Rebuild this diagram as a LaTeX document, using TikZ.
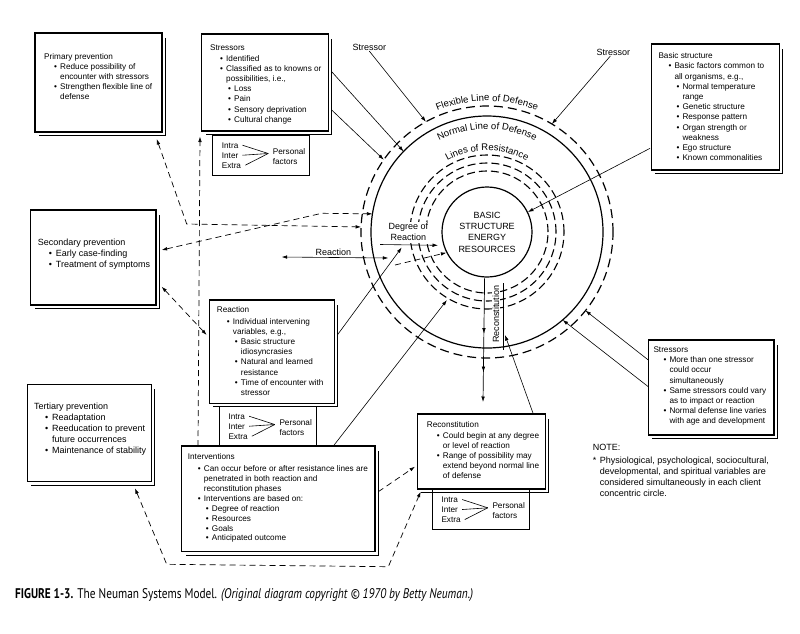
\documentclass[tikz,border=0pt]{standalone}
\usepackage{fontspec}
\setmainfont{Liberation Sans}
\newfontfamily\capfont{PT Sans}
\usetikzlibrary{arrows.meta,decorations.text,decorations.markings,calc}
\newcommand\BulA{\hspace*{10pt}\makebox[6pt][l]{\textbullet}}
\newcommand\ConA{\hspace*{16pt}}
\newcommand\BulB{\hspace*{18pt}\makebox[6pt][l]{\textbullet}}
\newcommand\ConB{\hspace*{24pt}}
\newcommand\BulW{\hspace*{11pt}\makebox[7pt][l]{\textbullet}}
\newcommand\ConW{\hspace*{18pt}}
\newcommand\ShadowOf[1]{\draw[shadowline] ([shift={(3.2pt,-5pt)}]#1.north east) |- ([shift={(4pt,-3.4pt)}]#1.south west);}
\tikzset{
  box/.style={draw, line width=1.1pt, fill=white, inner sep=0pt, outer sep=0pt},
  shadowline/.style={line width=1.1pt},
  pfbox/.style={draw, line width=0.9pt, fill=white, inner sep=0pt, outer sep=0pt, minimum width=97pt, minimum height=40pt, anchor=south west},
  txt/.style={anchor=north west, align=left, inner sep=0pt, font=\fontsize{8.2}{10.2}\selectfont},
  txtw/.style={anchor=north west, align=left, inner sep=0pt, font=\fontsize{9}{11}\selectfont},
  lbl/.style={inner sep=0pt, font=\fontsize{9}{11}\selectfont},
  pft/.style={inner sep=0pt, anchor=base west, font=\fontsize{8.2}{10}\selectfont},
  conn/.style={line width=0.6pt, -{Latex[length=5.5pt,width=3.6pt]}},
  dconn/.style={line width=0.7pt, dash pattern=on 6pt off 4pt, -{Latex[length=5.5pt,width=3.6pt]}},
  ddconn/.style={line width=0.7pt, dash pattern=on 6pt off 4pt, {Latex[length=5.5pt,width=3.6pt]}-{Latex[length=5.5pt,width=3.6pt]}},
  flex/.style={line width=1.2pt, dash pattern=on 9pt off 5pt},
  normalline/.style={line width=1.2pt},
  resist/.style={line width=1.1pt, dash pattern=on 8pt off 4pt},
  arctext/.style={decorate, decoration={text along path, text align=center, text={|\fontsize{9.5}{10}\selectfont|#1}}},
  pf/.pic={
    \node[pfbox] (-box) at (0,0) {};
    \node[pft] (-intra) at (9,27) {Intra};
    \node[pft] (-inter) at (9,17) {Inter};
    \node[pft] (-extra) at (9,7) {Extra};
    \coordinate (-join) at (55.5,21.5);
    \node[pft] (-pers) at (60,21) {Personal};
    \node[pft] (-fact) at (60,11) {factors};
    \draw[line width=0.6pt] ([xshift=4pt]-intra.east) -- (-join);
    \draw[line width=0.6pt] ([xshift=4pt]-inter.east) -- (-join);
    \draw[line width=0.6pt] ([xshift=4pt]-extra.east) -- (-join);
  }
}
\begin{document}
\begin{tikzpicture}[x=1pt,y=1pt]
\fill[white] (0,0) rectangle (800,-633);
\useasboundingbox (0,0) rectangle (800,-633);

% personal factor boxes
\pic (pfa) at (212.7,-175) {pf};
\pic (pfb) at (219.3,-446) {pf};
\pic (pfc) at (432.3,-529.3) {pf};

% main boxes
\node[box, minimum width=127pt, minimum height=99pt] (pp) at (98.5,-82.5) {};
\node[box, minimum width=126.6pt, minimum height=97pt] (st1) at (265,-82.5) {};
\node[box, minimum width=128.3pt, minimum height=126pt] (bs) at (715.2,-107) {};
\node[box, minimum width=125.3pt, minimum height=95pt] (sp) at (93.35,-257.5) {};
\node[box, minimum width=125pt, minimum height=103.3pt] (re) at (271.8,-351.65) {};
\node[box, minimum width=124.4pt, minimum height=97.4pt] (tp) at (89.5,-433) {};
\node[box, minimum width=193.3pt, minimum height=105.7pt] (iv) at (278.35,-498.85) {};
\node[box, minimum width=128.4pt, minimum height=75pt] (rc) at (481.5,-451.5) {};
\node[box, minimum width=125.7pt, minimum height=95pt] (st2) at (711.15,-387.5) {};
\ShadowOf{pp}\ShadowOf{st1}\ShadowOf{bs}\ShadowOf{sp}\ShadowOf{re}
\ShadowOf{tp}\ShadowOf{iv}\ShadowOf{rc}\ShadowOf{st2}

% box texts
\node[txt] (ppt) at (44,-53) {Primary prevention\\
\BulA Reduce possibility of\\
\ConA encounter with stressors\\
\BulA Strengthen flexible line of\\
\ConA defense};
\node[txt] (st1t) at (210,-45) {Stressors\\
\BulA Identified\\
\BulA Classified as to knowns or\\
\ConA possibilities, i.e.,\\
\BulB Loss\\
\BulB Pain\\
\BulB Sensory deprivation\\
\BulB Cultural change};
\node[txt] (bst) at (658.3,-52.5) {Basic structure\\
\BulA Basic factors common to\\
\ConA all organisms, e.g.,\\
\BulB Normal temperature\\
\ConB range\\
\BulB Genetic structure\\
\BulB Response pattern\\
\BulB Organ strength or\\
\ConB weakness\\
\BulB Ego structure\\
\BulB Known commonalities};
\node[txtw] (spt) at (37.7,-239) {Secondary prevention\\
\BulW Early case-finding\\
\BulW Treatment of symptoms};
\node[txt] (ret) at (216.7,-306.8) {Reaction\\[1pt]
\BulA Individual intervening\\
\ConA variables, e.g.,\\
\BulB Basic structure\\
\ConB idiosyncrasies\\
\BulB Natural and learned\\
\ConB resistance\\
\BulB Time of encounter with\\
\ConB stressor};
\node[txtw] (tpt) at (34,-402.6) {Tertiary prevention\\
\BulW Readaptation\\
\BulW Reeducation to prevent\\
\ConW future occurrences\\
\BulW Maintenance of stability};
\node[txt, font=\fontsize{8.2}{9.95}\selectfont] (ivt) at (187.7,-453.2) {Interventions\\[2pt]
\BulA Can occur before or after resistance lines are\\
\ConA penetrated in both reaction and\\
\ConA reconstitution phases\\
\BulA Interventions are based on:\\
\BulB Degree of reaction\\
\BulB Resources\\
\BulB Goals\\
\BulB Anticipated outcome};
\node[txt] (rct) at (426.7,-421.8) {Reconstitution\\
\BulA Could begin at any degree\\
\ConA or level of reaction\\
\BulA Range of possibility may\\
\ConA extend beyond normal line\\
\ConA of defense};
\node[txt, font=\fontsize{8.2}{10.1}\selectfont] (st2t) at (653.3,-346.8) {Stressors\\
\BulA More than one stressor\\
\ConA could occur\\
\ConA simultaneously\\
\BulA Same stressors could vary\\
\ConA as to impact or reaction\\
\BulA Normal defense line varies\\
\ConA with age and development};
\node[txtw] (note) at (592.7,-443.8) {NOTE:\\[2.4pt]
\makebox[7pt][l]{*}Physiological, psychological, sociocultural,\\
\hspace*{7pt}developmental, and spiritual variables are\\
\hspace*{7pt}considered simultaneously in each client\\
\hspace*{7pt}concentric circle.};

% circles
\coordinate (C) at (487,-232);
\draw[flex] (C) circle[radius=126];
\draw[normalline] (C) circle[radius=116];
\draw[resist] (C) circle[radius=77];
\draw[resist] (C) circle[radius=69];
\draw[resist] (C) circle[radius=61];
\node[draw, circle, fill=white, line width=1.2pt, minimum size=90pt, inner sep=0pt, align=center, font=\fontsize{9}{11.3}\selectfont] (core) at (C) {BASIC\\STRUCTURE\\ENERGY\\RESOURCES};
\path[arctext={Flexible Line of Defense}] ($(C)+(150:131)$) arc[start angle=150, end angle=30, radius=131];
\path[arctext={Normal Line of Defense}] ($(C)+(150:103)$) arc[start angle=150, end angle=30, radius=103];
\path[arctext={Lines of Resistance}] ($(C)+(150:81.5)$) arc[start angle=150, end angle=30, radius=81.5];

% labels inside circle
\node[lbl, align=center, fill=white, inner sep=1.5pt] (dor) at (408.3,-232.2) {Degree of\\Reaction};
\node[lbl, rotate=90, fill=white, inner sep=1pt] (recl) at (496,-314) {Reconstitution};
\draw[line width=0.7pt] ($(recl.center)+(7.3,31)$) -- ($(recl.center)+(7.3,-36)$);

% circle points
\coordinate (nA) at ($(C)+(136:116)$);
\coordinate (fA) at ($(C)+(145:126)$);
\coordinate (fS1) at ($(C)+(119:126)$);
\coordinate (fS2) at ($(C)+(59:126)$);
\coordinate (fB) at ($(C)+(-38.6:126)$);
\coordinate (nB) at ($(C)+(-49.3:116)$);
\coordinate (nC) at ($(C)+(171:116)$);
\coordinate (fC) at ($(C)+(177.7:126)$);
\coordinate (rA) at ($(C)+(239.5:79)$);
\coordinate (dorA) at (401.7,-247.5);
\coordinate (dorL) at (380,-244.5);
\coordinate (dorR) at (438,-245.3);
\coordinate (raL) at (281.7,-257);
\coordinate (raR) at (388.3,-258);
\coordinate (dstart) at (395,-265);
\coordinate (recTip) at (505,-335);
\coordinate (rdown) at (483,-402);
\coordinate (w1) at (321.7,-213.3);
\coordinate (w2) at (186.7,-224);
\coordinate (w3) at (166.7,-564.3);
\coordinate (w4) at (388.3,-566.7);

% stressor labels
\node[lbl] (s1) at (369.3,-47.7) {Stressor};
\node[lbl] (s2) at (613.3,-52.7) {Stressor};
\draw[conn] (s1.south) -- (fS1);
\draw[conn] ([xshift=-3pt]s2.south) -- (fS2);

% solid connectors
\draw[conn] ([shift={(3.4,10.8)}]st1.east) -- (nA);
\draw[conn] ([shift={(3.4,-27.5)}]st1.east) -- (fA);
\draw[conn] ([shift={(-1,-41.3)}]bs.west) -- (core.26);
\draw[conn] ([yshift=27.5]st2.west) -- (fB);
\draw[conn] ([yshift=0.8]st2.west) -- (nB);
\draw[conn] ([shift={(3,16.6)}]re.east) -- (dorA);
\draw[conn] (dorL) -- (dorR);
\draw[conn, {Latex[length=5.5pt,width=3.6pt]}-{Latex[length=5.5pt,width=3.6pt]}] (raL) -- (raR);
\node[lbl, anchor=south] (ral) at (333.3,-255.5) {Reaction};
\draw[dconn] (dstart) -- (core.207);
\draw[conn] ([xshift=55pt]iv.north) -- (rA);
\draw[conn] ([xshift=51.8pt]rc.north) -- (recTip);
\draw[line width=0.7pt, -{Latex[length=5.5pt,width=3.6pt]}, postaction={decorate},
  decoration={markings,
    mark=at position 0.45 with {\arrow{Latex[length=5.5pt,width=3.6pt]}},
    mark=at position 0.76 with {\arrow{Latex[length=5.5pt,width=3.6pt]}}}]
  (core.-93) -- (rdown);

% dashed connectors
\draw[ddconn] ([shift={(5.7,7.5)}]sp.east) -- (w1) -- (nC);
\draw[ddconn] ([shift={(-5.3,-7)}]pp.south east) -- (w2) -- (fC);
\draw[dconn] ([xshift=16.3pt]iv.north west) -- ([shift={(-1.7,-5.5)}]st1.south west);
\draw[ddconn] ([shift={(5.7,18.3)}]sp.south east) -- ([shift={(-2.6,16.65)}]re.west);
\draw[dconn] ([shift={(3.3,7.15)}]iv.east) -- ([shift={(-2.3,-15.2)}]rc.west);
\draw[ddconn] ([shift={(45.5,-6.6)}]tp.south) -- (w3) -- (w4) -- ([shift={(3.4,-2.7)}]rc.south west);

% caption
\node[anchor=base west, inner sep=0pt] (cap) at (15,-598.5) {\resizebox{458pt}{\height}{\capfont\fontsize{14}{16}\selectfont\textbf{FIGURE 1-3.} The Neuman Systems Model. \textit{(Original diagram copyright © 1970 by Betty Neuman.)}}};
\end{tikzpicture}
\end{document}
